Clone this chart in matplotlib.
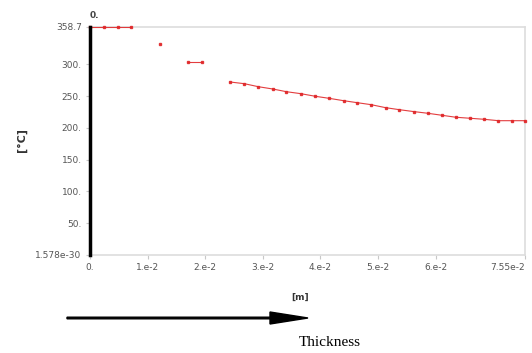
import matplotlib.pyplot as plt
from matplotlib.patches import FancyArrow
from matplotlib.ticker import FixedLocator

# Datos (espesor en m, temperatura en °C)
seg1_x = [0.0, 0.0024, 0.0048, 0.0072]
seg1_y = [358.7, 358.7, 358.7, 358.7]
seg2_x = [0.01215]
seg2_y = [331.5]
seg3_x = [0.01707, 0.0194]
seg3_y = [303.2, 303.2]
seg4_x = [0.0243, 0.0268, 0.0292, 0.0317, 0.0341, 0.0366, 0.0391, 0.0415,
          0.0440, 0.0464, 0.0488, 0.0513, 0.0537, 0.0563, 0.0586, 0.0611,
          0.0635, 0.0660, 0.0684, 0.0709, 0.0733, 0.0755]
seg4_y = [272.2, 269.5, 264.8, 261.2, 256.9, 253.8, 249.7, 246.5,
          242.8, 239.6, 236.5, 231.8, 228.6, 225.5, 223.0, 219.8,
          216.7, 215.1, 213.5, 211.3, 211.3, 211.3]

xticks = [0.0, 0.01, 0.02, 0.03, 0.04, 0.05, 0.06, 0.0755]
xlabels = ["0.", "1.e-2", "2.e-2", "3.e-2", "4.e-2", "5.e-2", "6.e-2", "7.55e-2"]
yticks = [0.0, 50, 100, 150, 200, 250, 300, 358.7]
ylabels = ["1.578e-30", "50.", "100.", "150.", "200.", "250.", "300.", "358.7"]

fig = plt.figure(figsize=(5.32, 3.53), dpi=100)
ax = fig.add_axes([90 / 532, 1 - 255 / 353, 435 / 532, 228 / 353])

red = "#e0282a"
for xs, ys in [(seg1_x, seg1_y), (seg2_x, seg2_y), (seg3_x, seg3_y), (seg4_x, seg4_y)]:
    ax.plot(xs, ys, color=red, lw=0.8, alpha=0.9, marker="s", ms=2.0,
            mec=red, mfc=red, clip_on=False, zorder=3)

ax.set_xlim(0, 0.0755)
ax.set_ylim(0, 358.7)

ax.xaxis.set_major_locator(FixedLocator(xticks))
ax.set_xticklabels(xlabels)
ax.yaxis.set_major_locator(FixedLocator(yticks))
ax.set_yticklabels(ylabels)
ax.tick_params(labelsize=6.5, colors="#c8c8c8", labelcolor="#555555",
               length=3, width=0.8, pad=3)
ax.get_xticklabels()[-1].set_horizontalalignment("right")

# bordes
for s in ["top", "right", "bottom"]:
    ax.spines[s].set_color("#dddddd")
    ax.spines[s].set_linewidth(1.2)
ax.spines["left"].set_color("black")
ax.spines["left"].set_linewidth(2.5)
ax.spines["left"].set_zorder(4)

ax.text(0.0, 1.03, "0.", transform=ax.transAxes, fontsize=6.5, color="#444444",
        fontweight="bold", ha="left", va="bottom")

fig.text(22 / 532, 1 - 140 / 353, "[°C]", fontsize=8, fontweight="bold",
         color="#333333", rotation=90, ha="center", va="center")
fig.text(300 / 532, 1 - 297 / 353, "[m]", fontsize=6.5, fontweight="bold",
         color="#333333", ha="center", va="center")

# flecha de espesor
x0, y0 = 67 / 532, 1 - 318 / 353
hl = 38 / 532
fig.patches.append(FancyArrow(
    x0, y0, 308 / 532 - x0, 0, width=1.6 / 353,
    head_width=12 / 353, head_length=hl, length_includes_head=True,
    color="black", transform=fig.transFigure, figure=fig))
fig.text(330 / 532, 1 - 342 / 353, "Thickness", fontsize=11,
         family="Liberation Serif", ha="center", va="center", color="black")

fig.savefig("out.png", dpi=100)
